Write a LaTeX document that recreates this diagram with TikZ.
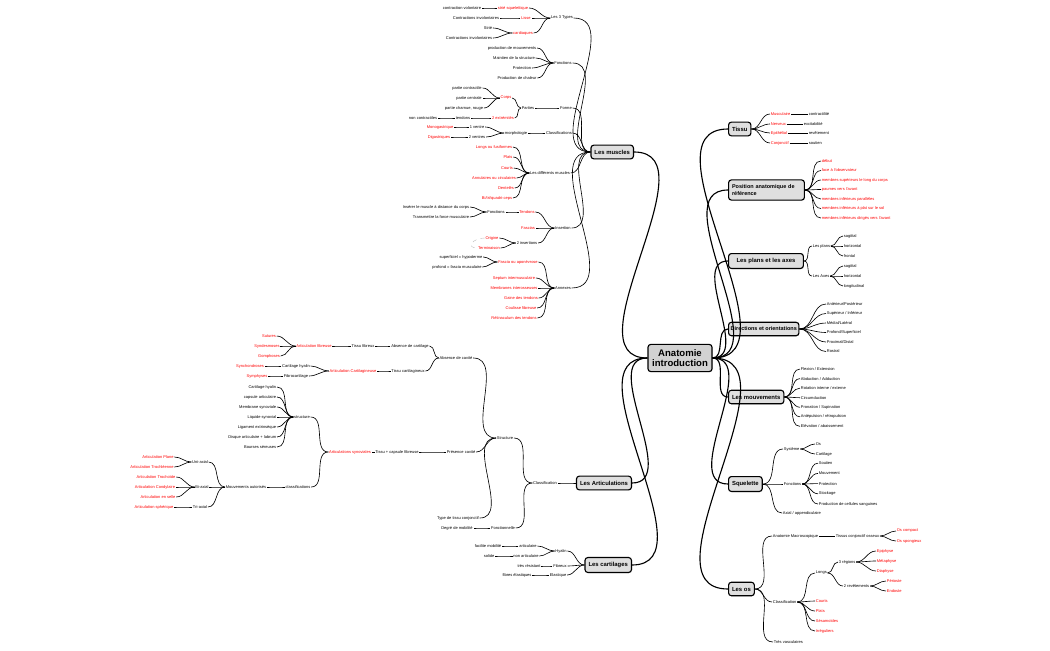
\documentclass[tikz,border=0pt]{standalone}
\usepackage{fontspec}
\setmainfont{Liberation Sans}
\usetikzlibrary{positioning,shadows}

\begin{document}
\begin{tikzpicture}[x=0.025cm, y=-0.025cm,
    leaf/.style={inner sep=0.4pt, font=\fontsize{2.85}{3.3}\selectfont},
    rl/.style={leaf, text=red},
    topic/.style={rectangle, draw, thick, fill=gray!25, rounded corners=2pt, inner xsep=2.5pt, minimum height=0.33cm, font=\fontsize{4.2}{5}\selectfont\bfseries, drop shadow={opacity=0.3,shadow xshift=0.4pt,shadow yshift=-0.4pt}},
    root/.style={topic, fill=gray!35, minimum height=0.68cm, minimum width=1.6cm, align=center, font=\fontsize{6.8}{7.4}\selectfont\bfseries},
    lk/.style={out=180, in=0},
    rk/.style={out=0, in=180},
    link/.style={line width=0.45pt},
    main/.style={line width=0.8pt}]

    \useasboundingbox (0,0) rectangle (1050,650);

    % centre
    \node[root] (anat) at (680,358) {Anatomie\\introduction};

    % ---------- Les muscles ----------
    \node[topic, anchor=east] (musc) at (634,152) {Les muscles};
    \node[leaf] (m3t) at (562,18) {Les 3 Types};
    \node[rl] (sse) at (513,8) {strié squelettique};
    \node[rl] (lis) at (526,18) {Lisse};
    \node[rl] (car) at (523,33) {cardiaques};
    \node[leaf] (cvo) at (462,8) {contraction volontaire};
    \node[leaf] (cin) at (476,18) {Contractions involontaires};
    \node[leaf] (stri) at (488,28) {Strié};
    \node[leaf] (cin2) at (469,38) {Contractions involontaires};

    \node[leaf] (mfc) at (563,63) {Fonctions};
    \node[leaf] (pmv) at (512,48) {production de mouvements};
    \node[leaf] (mst) at (514,58) {Maintien de la structure};
    \node[leaf] (prt) at (522,68) {Protection};
    \node[leaf] (pch) at (517,78) {Production de chaleur};

    \node[leaf] (mfo) at (566,108) {Forme};
    \node[leaf] (par) at (528,108) {Parties};
    \node[rl] (crp) at (506,98) {Corps};
    \node[rl] (ext) at (503,118) {2 extrémités};
    \node[leaf] (pco) at (467,88) {partie contractile};
    \node[leaf] (pce) at (469,98) {partie centrale};
    \node[leaf] (pcr) at (464,108) {partie charnue, rouge};
    \node[leaf] (tdn) at (463,118) {tendons};
    \node[leaf] (nco) at (423,118) {non contractiles};

    \node[leaf] (mcl) at (559,133) {Classifications};
    \node[leaf] (mor) at (516,133) {morphologie};
    \node[leaf] (ve1) at (477,127) {1 ventre};
    \node[leaf] (ve2) at (477,137) {2 ventres};
    \node[rl] (mono) at (440,127) {Monogastrique};
    \node[rl] (digs) at (439,137) {Digastriques};

    \node[leaf] (mdi) at (550,173) {Les différents muscles};
    \node[rl] (di1) at (494,147) {Longs ou fusiformes};
    \node[rl] (di2) at (508,157) {Plats};
    \node[rl] (di3) at (507,168) {Courts};
    \node[rl] (di4) at (494,178) {Annulaires ou circulaires};
    \node[rl] (di5) at (506,188) {Dentelés};
    \node[rl] (di6) at (497,198) {Bi/tri/quadri-ceps};

    \node[leaf] (mins) at (563,228) {Insertion};
    \node[rl] (itd) at (527,212) {Tendons};
    \node[rl] (ifa) at (528,228) {Fascias};
    \node[leaf] (ins2) at (527,243) {2 insertions};
    \node[leaf] (ifo) at (496,212) {Fonctions};
    \node[leaf] (ifa1) at (436,207) {Insérer le muscle à distance du corps};
    \node[leaf] (ifa2) at (441,217) {Transmettre la force musculaire};
    \node[rl] (orig) at (492,238) {Origine};
    \node[rl] (term) at (489,248) {Terminaison};

    \node[leaf] (man) at (563,288) {Annexes};
    \node[rl] (an1) at (518,262) {Fascia ou aponévrose};
    \node[rl] (an2) at (514,278) {Septum intermusculaire};
    \node[rl] (an3) at (514,288) {Membranes interosseuses};
    \node[rl] (an4) at (521,298) {Gaine des tendons};
    \node[rl] (an5) at (521,308) {Coulisse fibreuse};
    \node[rl] (an6) at (514,318) {Rétinaculum des tendons};
    \node[leaf] (fsup) at (461,257) {superficiel = hypoderme};
    \node[leaf] (fpro) at (457,267) {profond = fascia musculaire};

    \foreach \c in {m3t,mfc,mfo,mcl,mdi,mins,man}
        \draw[link] (musc.west) to[lk] (\c.east);
    \foreach \c in {sse,lis,car} \draw[link] (m3t.west) to[lk] (\c.east);
    \draw[link] (sse.west) to[lk] (cvo.east);
    \draw[link] (lis.west) to[lk] (cin.east);
    \foreach \c in {stri,cin2} \draw[link] (car.west) to[lk] (\c.east);
    \foreach \c in {pmv,mst,prt,pch} \draw[link] (mfc.west) to[lk] (\c.east);
    \draw[link] (mfo.west) to[lk] (par.east);
    \foreach \c in {crp,ext} \draw[link] (par.west) to[lk] (\c.east);
    \foreach \c in {pco,pce,pcr} \draw[link] (crp.west) to[lk] (\c.east);
    \draw[link] (ext.west) to[lk] (tdn.east);
    \draw[link] (tdn.west) to[lk] (nco.east);
    \draw[link] (mcl.west) to[lk] (mor.east);
    \foreach \c in {ve1,ve2} \draw[link] (mor.west) to[lk] (\c.east);
    \draw[link] (ve1.west) to[lk] (mono.east);
    \draw[link] (ve2.west) to[lk] (digs.east);
    \foreach \c in {di1,di2,di3,di4,di5,di6} \draw[link] (mdi.west) to[lk] (\c.east);
    \foreach \c in {itd,ifa,ins2} \draw[link] (mins.west) to[lk] (\c.east);
    \draw[link] (itd.west) to[lk] (ifo.east);
    \foreach \c in {ifa1,ifa2} \draw[link] (ifo.west) to[lk] (\c.east);
    \foreach \c in {orig,term} \draw[link] (ins2.west) to[lk] (\c.east);
    \draw[gray!50, dashed, line width=0.3pt] (orig.west) to[out=180, in=180, looseness=2.5] (term.west);
    \foreach \c in {an1,an2,an3,an4,an5,an6} \draw[link] (man.west) to[lk] (\c.east);
    \foreach \c in {fsup,fpro} \draw[link] (an1.west) to[lk] (\c.east);

    % ---------- Les Articulations ----------
    \node[topic, anchor=east] (artic) at (632,483) {Les Articulations};
    \node[leaf] (acl) at (545,483) {Classification};
    \node[leaf] (ast) at (505,438) {Structure};
    \node[leaf] (afo) at (503,528) {Fonctionnelle};
    \node[leaf] (dmo) at (457,528) {Degré de mobilité};
    \node[leaf] (aab) at (456,358) {Absence de cavité};
    \node[leaf] (apr) at (461,452) {Présence cavité};
    \node[leaf] (att) at (458,518) {Type de tissu conjonctif};
    \node[leaf] (aac) at (410,346) {Absence de cartilage};
    \node[leaf] (atc) at (408,371) {Tissu cartilagineux};
    \node[leaf] (atf) at (363,346) {Tissu fibreux};
    \node[rl] (afb) at (314,346) {Articulation fibreuse};
    \node[rl] (sut) at (269,336) {Sutures};
    \node[rl] (synd) at (267,346) {Syndesmoses};
    \node[rl] (gom) at (269,356) {Gomphoses};
    \node[rl] (acg) at (353,371) {Articulation Cartilagineuse};
    \node[leaf] (ach) at (296,366) {Cartilage hyalin};
    \node[leaf] (afc) at (296,376) {Fibrocartilage};
    \node[rl] (sch) at (250,366) {Synchondroses};
    \node[rl] (sym) at (257,376) {Symphyses};
    \node[leaf] (atcf) at (397,452) {Tissu + capsule fibreuse};
    \node[rl] (asy) at (350,452) {Articulations synoviales};
    \node[leaf] (sst) at (302,417) {structure};
    \node[leaf] (scl) at (298,487) {classifications};
    \node[leaf, anchor=east] (st1) at (277,387) {Cartilage hyalin};
    \node[leaf, anchor=east] (st2) at (277,397) {capsule articulaire};
    \node[leaf, anchor=east] (st3) at (277,407) {Membrane synoviale};
    \node[leaf, anchor=east] (st4) at (277,417) {Liquide synovial};
    \node[leaf, anchor=east] (st5) at (277,427) {Ligament extrinsèque};
    \node[leaf, anchor=east] (st6) at (277,437) {Disque articulaire + labrum};
    \node[leaf, anchor=east] (st7) at (277,447) {Bourses séreuses};
    \node[leaf] (mva) at (246,487) {Mouvements autorisés};
    \node[leaf] (uni) at (200,462) {Uni-axial};
    \node[leaf] (bia) at (202,487) {Bi-axial};
    \node[leaf] (tri) at (200,507) {Tri-axial};
    \node[rl] (apl) at (158,457) {Articulation Plane};
    \node[rl] (atr) at (152,467) {Articulation Trochléenne};
    \node[rl] (ato) at (156,477) {Articulation Trochoïde};
    \node[rl] (aco) at (155,487) {Articulation Condylaire};
    \node[rl] (ase) at (158,497) {Articulation en selle};
    \node[rl] (asp) at (154,507) {Articulation sphérique};

    \draw[link] (artic.west) to[lk] (acl.east);
    \foreach \c in {ast,afo} \draw[link] (acl.west) to[lk] (\c.east);
    \draw[link] (afo.west) to[lk] (dmo.east);
    \foreach \c in {aab,apr,att} \draw[link] (ast.west) to[lk] (\c.east);
    \foreach \c in {aac,atc} \draw[link] (aab.west) to[lk] (\c.east);
    \draw[link] (aac.west) to[lk] (atf.east);
    \draw[link] (atf.west) to[lk] (afb.east);
    \foreach \c in {sut,synd,gom} \draw[link] (afb.west) to[lk] (\c.east);
    \draw[link] (atc.west) to[lk] (acg.east);
    \foreach \c in {ach,afc} \draw[link] (acg.west) to[lk] (\c.east);
    \draw[link] (ach.west) to[lk] (sch.east);
    \draw[link] (afc.west) to[lk] (sym.east);
    \draw[link] (apr.west) to[lk] (atcf.east);
    \draw[link] (atcf.west) to[lk] (asy.east);
    \foreach \c in {sst,scl} \draw[link] (asy.west) to[lk] (\c.east);
    \foreach \c in {st1,st2,st3,st4,st5,st6,st7} \draw[link] (sst.west) to[lk] (\c.east);
    \draw[link] (scl.west) to[lk] (mva.east);
    \foreach \c in {uni,bia,tri} \draw[link] (mva.west) to[lk] (\c.east);
    \foreach \c in {apl,atr} \draw[link] (uni.west) to[lk] (\c.east);
    \foreach \c in {ato,aco,ase} \draw[link] (bia.west) to[lk] (\c.east);
    \draw[link] (tri.west) to[lk] (asp.east);

    % ---------- Les cartilages ----------
    \node[topic, anchor=east] (cart) at (632,565) {Les cartilages};
    \node[leaf] (hya) at (561,551) {Hyalin};
    \node[leaf] (fib) at (560,566) {Fibreux};
    \node[leaf] (ela) at (558,575) {Elastique};
    \node[leaf] (carti) at (528,546) {articulaire};
    \node[leaf] (ncart) at (526,556) {non articulaire};
    \node[leaf] (fmob) at (488,546) {facilite mobilité};
    \node[leaf] (soli) at (489,556) {solide};
    \node[leaf] (tres) at (529,566) {très résistant};
    \node[leaf] (fela) at (517,575) {fibres élastiques};

    \foreach \c in {hya,fib,ela} \draw[link] (cart.west) to[lk] (\c.east);
    \foreach \c in {carti,ncart} \draw[link] (hya.west) to[lk] (\c.east);
    \draw[link] (carti.west) to[lk] (fmob.east);
    \draw[link] (ncart.west) to[lk] (soli.east);
    \draw[link] (fib.west) to[lk] (tres.east);
    \draw[link] (ela.west) to[lk] (fela.east);

    % ---------- Tissu ----------
    \node[topic, anchor=west] (tiss) at (728,129) {Tissu};
    \node[rl, anchor=west] (tmu) at (770,114) {Musculaire};
    \node[rl, anchor=west] (tne) at (770,124) {Nerveux};
    \node[rl, anchor=west] (tep) at (770,133) {Epithélial};
    \node[rl, anchor=west] (tco) at (770,143) {Conjonctif};
    \node[leaf, anchor=west] (tmu2) at (808,114) {contractilité};
    \node[leaf, anchor=west] (tne2) at (803,124) {excitabilité};
    \node[leaf, anchor=west] (tep2) at (808,133) {revêtement};
    \node[leaf, anchor=west] (tco2) at (808,143) {soutien};
    \foreach \a/\b in {tmu/tmu2,tne/tne2,tep/tep2,tco/tco2} {
        \draw[link] (tiss.east) to[rk] (\a.west);
        \draw[link] (\a.east) -- (\b.west);
    }

    % ---------- Position anatomique ----------
    \node[topic, anchor=west, text width=1.72cm, align=left, font=\fontsize{3.9}{4.8}\selectfont\bfseries] (posi) at (728,190) {Position anatomique de\\référence};
    \foreach \t [count=\i] in {début, face à l'observateur, membres supérieurs le long du corps, paumes vers l'avant, membres inférieurs parallèles, membres inférieurs à plat sur le sol, membres inférieurs dirigés vers l'avant} {
        \node[rl, anchor=west] (po\i) at (821,151.5+9.5*\i) {\t};
        \draw[link] (posi.east) to[rk] (po\i.west);
    }

    % ---------- Plans et axes ----------
    \node[topic, anchor=west, minimum width=1.87cm, align=left] (plan) at (728,261) {Les plans et les axes};
    \node[leaf, anchor=west] (lpl) at (812,246) {Les plans};
    \node[leaf, anchor=west] (lax) at (812,276) {Les Axes};
    \node[leaf, anchor=west] (pl1) at (843,236) {sagittal};
    \node[leaf, anchor=west] (pl2) at (843,246) {horizontal};
    \node[leaf, anchor=west] (pl3) at (843,256) {frontal};
    \node[leaf, anchor=west] (ax1) at (843,266) {sagittal};
    \node[leaf, anchor=west] (ax2) at (843,276) {horizontal};
    \node[leaf, anchor=west] (ax3) at (843,286) {longitudinal};
    \foreach \c in {lpl,lax} \draw[link] (plan.east) to[rk] (\c.west);
    \foreach \c in {pl1,pl2,pl3} \draw[link] (lpl.east) to[rk] (\c.west);
    \foreach \c in {ax1,ax2,ax3} \draw[link] (lax.east) to[rk] (\c.west);

    % ---------- Directions ----------
    \node[topic, anchor=west, inner xsep=1.5pt, font=\fontsize{3.9}{4.8}\selectfont\bfseries] (dire) at (728,329) {Directions et orientations};
    \foreach \t [count=\i] in {Antérieur/Postérieur, Supérieur / Inférieur, Médial/Latéral, Profond/Superficiel, Proximal/Distal, Rostral} {
        \node[leaf, anchor=west] (di\i) at (826,294.5+9.5*\i) {\t};
        \draw[link] (dire.east) to[rk] (di\i.west);
    }

    % ---------- Mouvements ----------
    \node[topic, anchor=west] (mouv) at (728,397) {Les mouvements};
    \foreach \t [count=\i] in {Flexion / Extension, Abduction / Adduction, Rotation interne / externe, Circumduction, Pronation / Supination, Antépulsion / rétropulsion, Elévation / abaissement} {
        \node[leaf, anchor=west] (mv\i) at (800,359.5+9.55*\i) {\t};
        \draw[link] (mouv.east) to[rk] (mv\i.west);
    }

    % ---------- Squelette ----------
    \node[topic, anchor=west] (sque) at (728,484) {Squelette};
    \node[leaf, anchor=west] (sys) at (783,449) {Système};
    \node[leaf, anchor=west] (sfc) at (783,484) {Fonctions};
    \node[leaf, anchor=west] (sax) at (782,513) {Axial / appendiculaire};
    \node[leaf, anchor=west] (sos) at (815,444) {Os};
    \node[leaf, anchor=west] (sca) at (815,454) {Cartilage};
    \foreach \c in {sys,sfc,sax} \draw[link] (sque.east) to[rk] (\c.west);
    \foreach \c in {sos,sca} \draw[link] (sys.east) to[rk] (\c.west);
    \foreach \t [count=\i] in {Soutien, Mouvement, Protection, Stockage, Production de cellules sanguines} {
        \node[leaf, anchor=west] (sf\i) at (818,453+10.2*\i) {\t};
        \draw[link] (sfc.east) to[rk] (sf\i.west);
    }

    % ---------- Les os ----------
    \node[topic, anchor=west] (los) at (728,589) {Les os};
    \node[leaf, anchor=west] (amac) at (772,536) {Anatomie Macroscopique};
    \node[leaf, anchor=west] (tcos) at (835,536) {Tissus conjonctif osseux};
    \node[rl, anchor=west] (ocp) at (896,531) {Os compact};
    \node[rl, anchor=west] (osp) at (896,541) {Os spongieux};
    \node[leaf, anchor=west] (ocl) at (772,602) {Classification};
    \node[leaf, anchor=west] (tvas) at (773,642) {Très vasculaires};
    \node[leaf, anchor=west] (olon) at (815,573) {Longs};
    \node[rl, anchor=west] (ocou) at (815,601) {Courts};
    \node[rl, anchor=west] (opla) at (815,611) {Plats};
    \node[rl, anchor=west] (oses) at (815,621) {Sésamoïdes};
    \node[rl, anchor=west] (oirr) at (815,631) {Irréguliers};
    \node[leaf, anchor=west] (oreg) at (838,562) {3 régions};
    \node[leaf, anchor=west] (orev) at (843,586) {2 revêtements};
    \node[rl, anchor=west] (epi) at (876,551) {Epiphyse};
    \node[rl, anchor=west] (met) at (876,561) {Métaphyse};
    \node[rl, anchor=west] (dia) at (876,571) {Diaphyse};
    \node[rl, anchor=west] (peri) at (886,581) {Périoste};
    \node[rl, anchor=west] (endo) at (886,591) {Endoste};
    \foreach \c in {amac,ocl,tvas} \draw[link] (los.east) to[rk] (\c.west);
    \draw[link] (amac.east) -- (tcos.west);
    \foreach \c in {ocp,osp} \draw[link] (tcos.east) to[rk] (\c.west);
    \foreach \c in {olon,ocou,opla,oses,oirr} \draw[link] (ocl.east) to[rk] (\c.west);
    \foreach \c in {oreg,orev} \draw[link] (olon.east) to[rk] (\c.west);
    \foreach \c in {epi,met,dia} \draw[link] (oreg.east) to[rk] (\c.west);
    \foreach \c in {peri,endo} \draw[link] (orev.east) to[rk] (\c.west);

    % branches from the centre
    \foreach \c in {musc,artic,cart} \draw[main] (anat.west) to[lk] (\c.east);
    \foreach \c in {tiss,posi,plan,dire,mouv,sque,los} \draw[main] (anat.east) to[rk] (\c.west);
\end{tikzpicture}
\end{document}
